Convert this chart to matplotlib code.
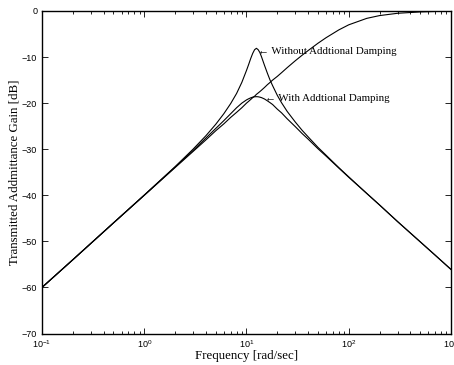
import matplotlib
matplotlib.use("Agg")
import matplotlib.pyplot as plt
from matplotlib.ticker import LogLocator, NullFormatter

# frequency points [rad/sec]
freq = [0.1, 0.2, 0.5, 1, 2, 3, 4, 5, 6, 7, 8, 9, 10, 10.5, 11, 11.5, 12, 12.5,
        13, 13.5, 14, 15, 16, 17, 18, 20, 22, 25, 30, 35, 40, 50, 60, 80, 100,
        150, 200, 300, 500, 700, 1000]

# gain curves [dB]
gain_highpass = [-60.0, -54.0, -46.0, -40.0, -34.0, -30.5, -28.0, -26.0, -24.5, -23.1,
                 -22.0, -21.0, -20.0, -19.6, -19.2, -18.8, -18.5, -18.1, -17.8, -17.5,
                 -17.2, -16.6, -16.0, -15.5, -15.0, -14.2, -13.4, -12.3, -10.8, -9.6,
                 -8.6, -7.0, -5.8, -4.1, -3.0, -1.6, -1.0, -0.5, -0.2, -0.1, 0.0]
gain_undamped = [-60.0, -54.0, -46.0, -39.95, -33.8, -30.0, -27.1, -24.6, -22.3, -20.1,
                 -17.9, -15.5, -12.9, -11.6, -10.3, -9.2, -8.4, -8.1, -8.4, -9.0,
                 -9.9, -11.8, -13.5, -15.0, -16.2, -18.3, -19.9, -21.8, -24.1, -25.9,
                 -27.3, -29.6, -31.3, -34.0, -36.0, -39.6, -42.1, -45.7, -50.1, -53.0, -56.1]
gain_damped = [-60.0, -54.0, -46.0, -40.0, -33.9, -30.3, -27.6, -25.5, -23.8, -22.3,
               -21.0, -20.0, -19.3, -19.05, -18.85, -18.7, -18.62, -18.6, -18.62, -18.7,
               -18.8, -19.1, -19.5, -19.9, -20.3, -21.3, -22.1, -23.4, -25.1, -26.6,
               -27.8, -29.9, -31.5, -34.1, -36.1, -39.6, -42.1, -45.7, -50.1, -53.0, -56.1]

plt.rcParams['mathtext.fontset'] = 'custom'
plt.rcParams['mathtext.rm'] = 'Liberation Sans'
plt.rcParams['mathtext.it'] = 'Liberation Sans'
serif = ['Liberation Serif', 'DejaVu Serif']

fig = plt.figure(figsize=(4.54, 3.65), dpi=100)
ax = fig.add_axes([0.0925, 0.0863, 0.9009, 0.8836])

for g in (gain_highpass, gain_undamped, gain_damped):
    ax.semilogx(freq, g, color='black', linewidth=0.8)

ax.set_xlim(0.1, 1000)
ax.set_ylim(-70, 0)
ax.set_yticks(range(-70, 1, 10))
ax.xaxis.set_major_locator(LogLocator(base=10, numticks=10))
ax.xaxis.set_minor_locator(LogLocator(base=10, subs=range(2, 10), numticks=20))
ax.xaxis.set_minor_formatter(NullFormatter())

ax.tick_params(which='both', direction='in', top=True, right=True,
               labelsize=6.5, width=0.6)
ax.tick_params(which='major', length=4)
ax.tick_params(which='minor', length=2)
for lab in ax.get_xticklabels() + ax.get_yticklabels():
    lab.set_family('Liberation Sans')
for sp in ax.spines.values():
    sp.set_linewidth(1.0)

ax.set_xlabel('Frequency [rad/sec]', family=serif, fontsize=9.3, labelpad=0)
ax.set_ylabel('Transmitted Addmittance Gain [dB]', family=serif, fontsize=9.3, labelpad=1)

ax.text(13.1, -8.9, '\u2190 Without Addtional Damping', family=serif,
        fontsize=7.8, va='center', ha='left')
ax.text(15.0, -18.9, '\u2190 With Addtional Damping', family=serif,
        fontsize=7.8, va='center', ha='left')

fig.savefig('out.png', dpi=100)
